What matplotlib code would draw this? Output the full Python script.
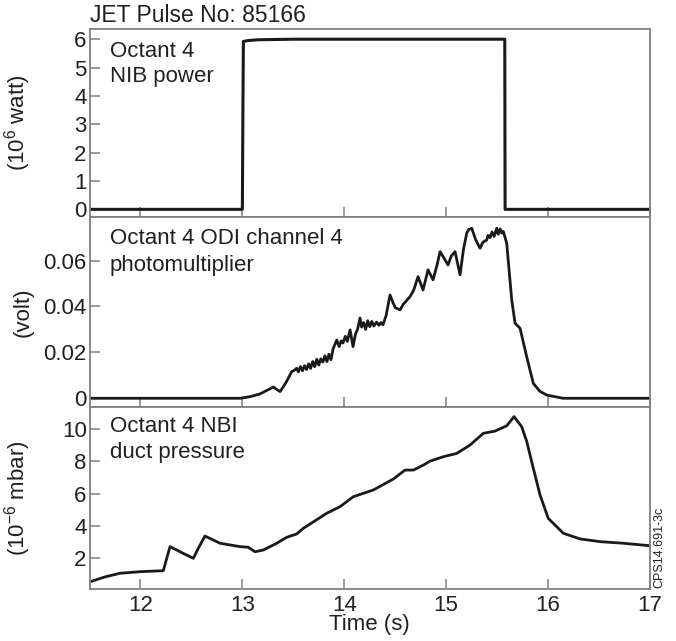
import matplotlib
matplotlib.use("Agg")
import matplotlib.pyplot as plt

plt.rcParams['font.family'] = ['Liberation Sans', 'DejaVu Sans']
plt.rcParams['mathtext.fontset'] = 'custom'
plt.rcParams['mathtext.rm'] = 'Liberation Sans'
plt.rcParams['mathtext.it'] = 'Liberation Sans'
plt.rcParams['mathtext.default'] = 'regular'

# ---- data ----
power_t = [11.5, 13.00, 13.006, 13.01, 13.05, 13.15, 13.5, 14.0, 14.5, 15.0, 15.5, 15.575, 15.578, 17.0]
power_v = [0.0, 0.0, 3.9, 5.92, 5.95, 5.98, 6.0, 6.0, 6.0, 6.0, 6.0, 6.0, 0.0, 0.0]

odi_t = [11.5, 12.5, 12.977, 13.075, 13.173, 13.304, 13.37, 13.43, 13.484, 13.51, 13.533,
         13.55, 13.57, 13.59, 13.61, 13.63, 13.65, 13.67, 13.69, 13.71, 13.73, 13.75,
         13.77, 13.79, 13.81, 13.83, 13.85, 13.87, 13.89, 13.926, 13.95, 13.97, 13.988,
         14.01, 14.03, 14.057, 14.086, 14.11, 14.13, 14.155, 14.17, 14.19, 14.21, 14.23,
         14.25, 14.27, 14.29, 14.318, 14.34, 14.36, 14.38, 14.41, 14.449, 14.48, 14.50,
         14.547, 14.58, 14.60, 14.645, 14.68, 14.724, 14.773, 14.80, 14.822, 14.871,
         14.91, 14.94, 14.98, 15.018, 15.05, 15.087, 15.136, 15.17, 15.202, 15.22,
         15.251, 15.29, 15.332, 15.36, 15.398, 15.41, 15.43, 15.45, 15.47, 15.496,
         15.51, 15.53, 15.545, 15.561, 15.594, 15.643, 15.676, 15.725, 15.79, 15.855,
         15.92, 15.987, 16.147, 17.0]
odi_v = [0.0, 0.0, 0.0, 0.0007, 0.0019, 0.0049, 0.0029, 0.0070, 0.0116, 0.0122, 0.0131,
         0.0115, 0.0138, 0.0120, 0.0142, 0.0125, 0.0150, 0.0130, 0.0160, 0.0138, 0.0170,
         0.0145, 0.0172, 0.0158, 0.0185, 0.0160, 0.0192, 0.0168, 0.0215, 0.0254, 0.0225,
         0.0250, 0.0241, 0.0270, 0.0248, 0.0298, 0.0225, 0.0280, 0.0300, 0.0350, 0.0310,
         0.0330, 0.0300, 0.0338, 0.0312, 0.0335, 0.0315, 0.0332, 0.0318, 0.0330, 0.0320,
         0.0360, 0.0450, 0.0415, 0.0395, 0.0385, 0.0410, 0.0420, 0.0443, 0.0470, 0.0530,
         0.0472, 0.0520, 0.0560, 0.0516, 0.0580, 0.0639, 0.0610, 0.0581, 0.0620, 0.0639,
         0.0538, 0.0650, 0.0720, 0.0735, 0.0741, 0.0690, 0.0654, 0.0680, 0.0690, 0.0710,
         0.0700, 0.0725, 0.0705, 0.0741, 0.0715, 0.0738, 0.0720, 0.0727, 0.0676, 0.0429,
         0.0327, 0.0305, 0.0181, 0.0065, 0.0030, 0.0014, 0.0, 0.0]

duct_t = [11.505, 11.65, 11.799, 11.996, 12.224, 12.29, 12.42, 12.519, 12.568, 12.633,
          12.781, 12.977, 13.058, 13.124, 13.206, 13.337, 13.435, 13.533, 13.598, 13.828,
          13.958, 14.089, 14.285, 14.481, 14.596, 14.678, 14.776, 14.842, 14.972, 15.104,
          15.234, 15.365, 15.479, 15.594, 15.666, 15.741, 15.791, 15.855, 15.921, 16.002,
          16.15, 16.314, 16.51, 16.739, 16.994]
duct_v = [0.50, 0.80, 1.03, 1.13, 1.19, 2.69, 2.27, 1.96, 2.59, 3.35,
          2.90, 2.69, 2.65, 2.37, 2.48, 2.90, 3.27, 3.48, 3.83, 4.77,
          5.18, 5.80, 6.22, 6.90, 7.46, 7.46, 7.77, 8.02, 8.29, 8.50,
          9.02, 9.75, 9.89, 10.22, 10.79, 10.16, 9.23, 7.57, 5.91, 4.45,
          3.52, 3.17, 3.00, 2.90, 2.75]

x_ticks = [12, 13, 14, 15, 16, 17]
power_ticks = [0, 1, 2, 3, 4, 5, 6]
odi_ticks = [0, 0.02, 0.04, 0.06]
odi_tick_labels = ['0', '0.02', '0.04', '0.06']
duct_ticks = [2, 4, 6, 8, 10]

# ---- figure ----
W, H = 676, 641
fig = plt.figure(figsize=(W / 100, H / 100), dpi=100)
left = 89.5 / W
width = (650 - 89.5) / W

def px_axes(top, bottom):
    return fig.add_axes([left, 1 - bottom / H, width, (bottom - top) / H])

ax1 = px_axes(29, 217)
ax2 = px_axes(217, 407)
ax3 = px_axes(407, 589)

spine_col = '#808080'
text_col = '#231f20'
fs = 16
tfs = 16
lc = '#1a1a1a'

for ax in (ax1, ax2, ax3):
    ax.set_xlim(11.5, 17.0)
    ax.set_xticks(x_ticks)
    for s in ax.spines.values():
        s.set_color(spine_col)
        s.set_linewidth(1.3)
    ax.tick_params(axis='both', direction='in', length=7, width=1.1, color=spine_col,
                   labelsize=tfs, labelcolor=text_col)
    ax.tick_params(axis='y', pad=2)
    ax.tick_params(axis='x', pad=4)
    ax.yaxis.set_label_coords(-0.1, 0.5)

def panel_text(lines_baselines):
    for txt, base in lines_baselines:
        fig.text(110 / W, 1 - base / H, txt, ha='left', va='baseline',
                 fontsize=fs, color=text_col)

ax1.plot(power_t, power_v, color=lc, lw=2.2)
ax1.set_ylim(-0.27, 6.36)
ax1.set_yticks(power_ticks)
ax1.tick_params(axis='x', labelbottom=False)
ax1.set_ylabel('(10$^6$ watt)', fontsize=fs, color=text_col)
panel_text([('Octant 4', 57), ('NIB power', 82)])

ax2.plot(odi_t, odi_v, color=lc, lw=2.0)
ax2.set_ylim(-0.0038, 0.079)
ax2.set_yticks(odi_ticks)
ax2.set_yticklabels(odi_tick_labels)
ax2.tick_params(axis='x', labelbottom=False)
ax2.set_ylabel('(volt)', fontsize=fs, color=text_col)
panel_text([('Octant 4 ODI channel 4', 243.5), ('photomultiplier', 271)])

ax3.plot(duct_t, duct_v, color=lc, lw=2.0)
ax3.set_ylim(0.05, 11.39)
ax3.set_yticks(duct_ticks)
ax3.set_ylabel('(10$^{-6}$ mbar)', fontsize=fs, color=text_col)
ax3.set_xlabel('Time (s)', fontsize=fs, color=text_col)
ax3.xaxis.set_label_coords(0.5, -0.14)
panel_text([('Octant 4 NBI', 431.5), ('duct pressure', 458)])

fig.text(90 / W, 1 - 21.7 / H, 'JET Pulse No: 85166', ha='left', va='baseline',
         fontsize=16.5, color=text_col)
fig.text(659 / W, 1 - 588 / H, 'CPS14.691-3c', rotation=90, ha='center', va='bottom',
         fontsize=9, color=text_col)

fig.savefig('out.png', dpi=100)
